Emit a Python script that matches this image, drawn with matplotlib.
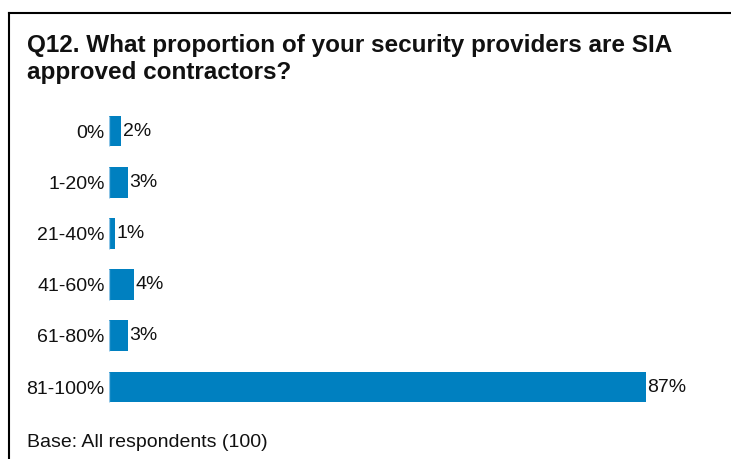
import matplotlib
matplotlib.use("Agg")
import matplotlib.pyplot as plt
from matplotlib.lines import Line2D

plt.rcParams['font.family'] = ['Liberation Sans', 'DejaVu Sans']

# Survey responses
categories = ["0%", "1-20%", "21-40%", "41-60%", "61-80%", "81-100%"]
values = [2, 3, 1, 4, 3, 87]
title = "Q12. What proportion of your security providers are SIA\napproved contractors?"
base_note = "Base: All respondents (100)"

W, H = 731, 459
fig = plt.figure(figsize=(W / 100, H / 100), dpi=100)

# Plot area: bars start at x=109 px, 87% reaches x=646 px
left_px, right_px = 109, 646
top_px, bottom_px = 105.4, 412.6
ax = fig.add_axes([left_px / W, 1 - bottom_px / H,
                   (right_px - left_px) / W, (bottom_px - top_px) / H])

bar_color = "#0080c0"
bar_h = 0.605
ypos = list(range(len(categories)))
ax.barh(ypos, values, height=bar_h, color=bar_color, edgecolor="none")
# faint lighter edge where each bar starts
ax.vlines([0] * len(ypos), [y - bar_h / 2 for y in ypos], [y + bar_h / 2 for y in ypos],
          colors="#8cc4e6", linewidth=0.9)
ax.set_xlim(0, max(values))
ax.set_ylim(len(categories) - 0.5, -0.5)

for y, v in zip(ypos, values):
    ax.annotate(f"{v}%", xy=(v, y), xytext=(1, 0), textcoords="offset points",
                ha="left", va="center", fontsize=14, color="#111111")

ax.set_yticks(ypos)
ax.set_yticklabels(categories, fontsize=14, color="#111111")
ax.tick_params(axis="y", length=0, pad=3)
ax.set_xticks([])
for side in ("top", "right", "bottom", "left"):
    ax.spines[side].set_visible(False)

# Title and footnote
fig.text(27 / W, 1 - 79 / H, title, fontsize=17.5, fontweight="bold",
         ha="left", va="baseline", linespacing=1.2, color="#111111")
fig.text(27 / W, 1 - 447 / H, base_note, fontsize=14, ha="left",
         va="baseline", color="#111111")

# Frame: top and left rules
fig.add_artist(Line2D([8.5 / W, 8.5 / W], [1 - 12.5 / H, 0], transform=fig.transFigure,
                      color="black", linewidth=1.5))
fig.add_artist(Line2D([8.5 / W, 730 / W], [1 - 12.5 / H, 1 - 12.5 / H],
                      transform=fig.transFigure, color="black", linewidth=1.5))

fig.savefig("out.png", dpi=100, facecolor="white")
